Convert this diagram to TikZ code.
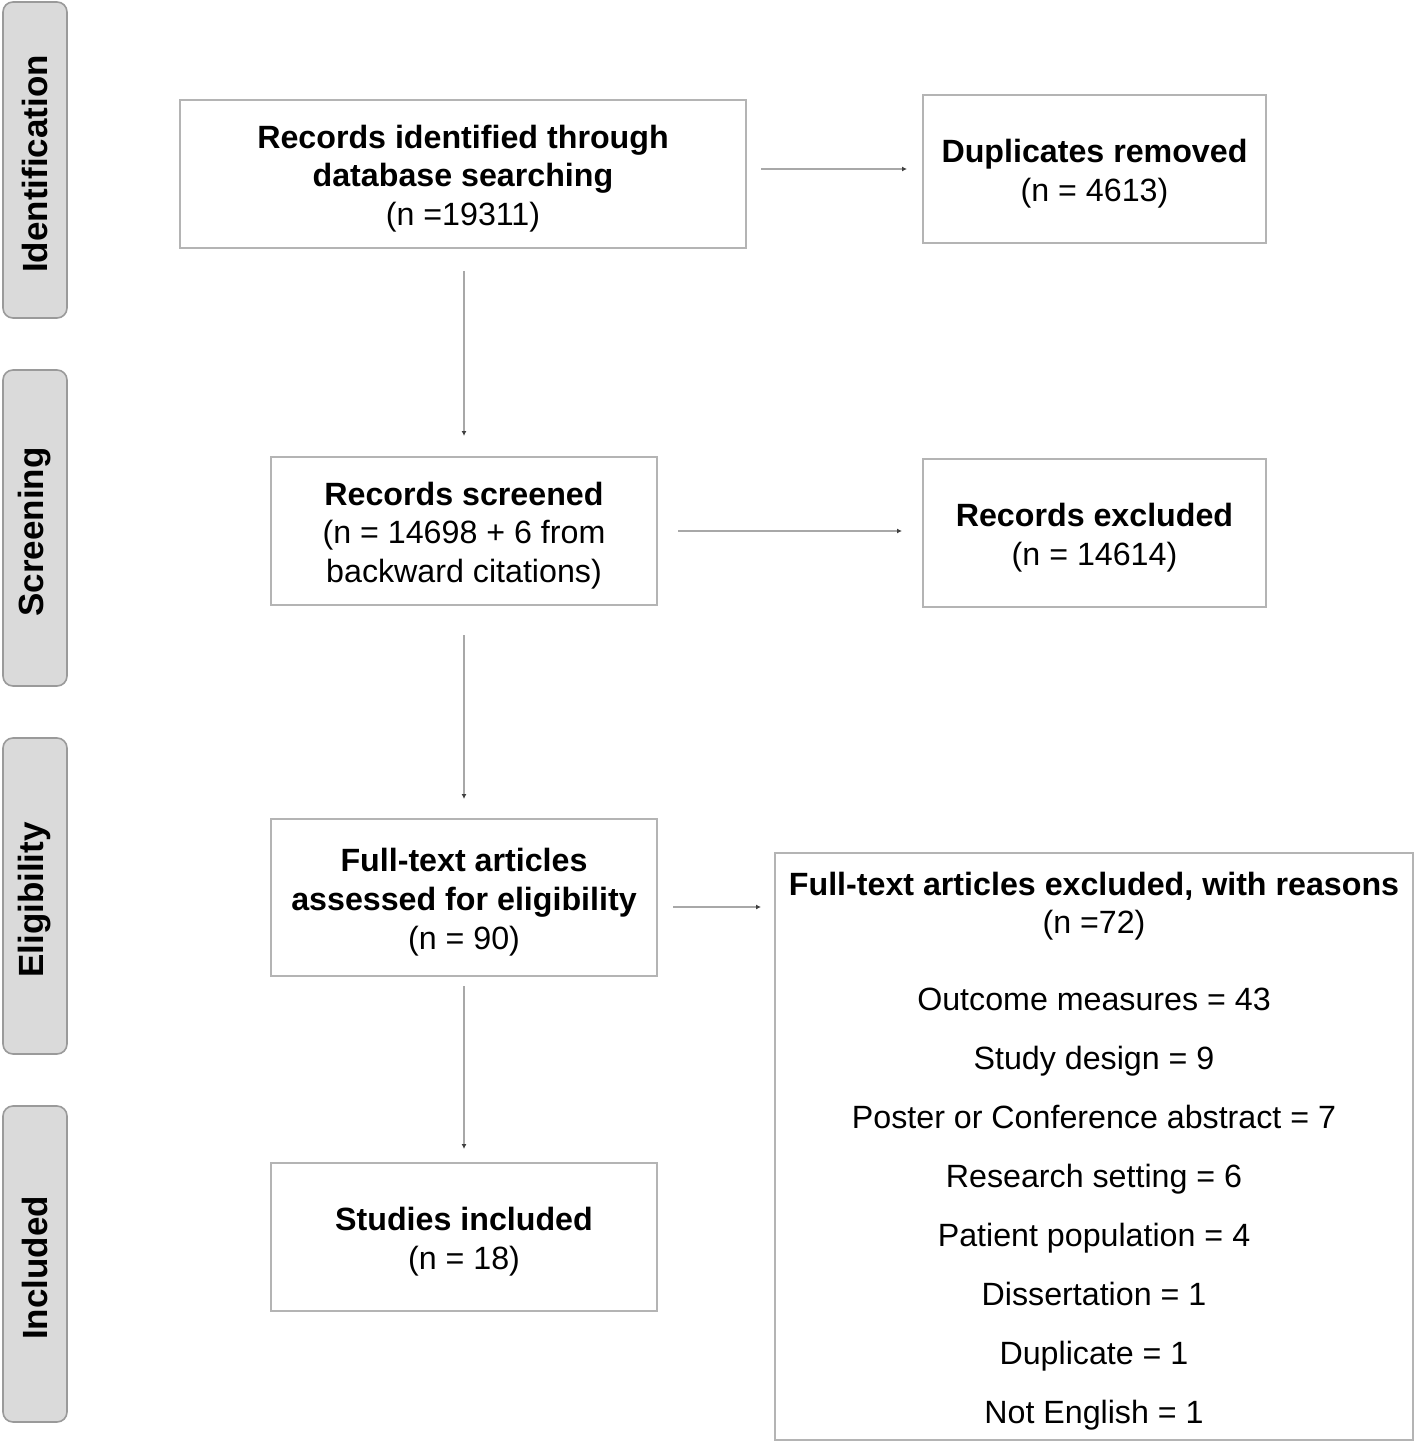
\documentclass[tikz,border=0pt]{standalone}
\usepackage{fontspec}
\setmainfont{Liberation Sans}
\usetikzlibrary{arrows.meta}
\definecolor{boxgrey}{HTML}{B4B4B4}
\definecolor{stagefill}{HTML}{DADADA}
\definecolor{stageline}{HTML}{9A9A9A}
\definecolor{linegrey}{HTML}{A8A8A8}
\newcommand{\toppad}{\rule{0pt}{16.3pt}}
\begin{document}
\begin{tikzpicture}[x=0.5pt, y=-0.5pt]
\useasboundingbox (0,0) rectangle (1416,1443);
\tikzset{stage/.style={draw=stageline, fill=stagefill, line width=0.8pt, rounded corners=5pt, rotate=90, minimum width=158pt, minimum height=32pt, inner sep=0pt, font=\fontsize{17.5}{20}\selectfont\bfseries}}
\node[stage] (idf) at (35,160) {Identification\hspace*{4pt}};
\node[stage] (scr) at (35,528) {Screening\hspace*{4pt}};
\node[stage] (elg) at (35,896) {Eligibility\hspace*{4pt}};
\node[stage] (inc) at (35,1264) {Included\hspace*{4pt}};

\tikzset{box/.style={draw=boxgrey, line width=1pt, align=center, inner sep=0pt, font=\fontsize{16.1}{19.3}\selectfont}}
\node[box, minimum width=283pt, minimum height=74pt] (rid) at (463,174) {\toppad\textbf{Records identified through}\\\textbf{database searching}\\(n =19311)};
\node[box, minimum width=171.5pt, minimum height=74pt] (dup) at (1094.5,169) {\toppad\textbf{Duplicates removed}\\(n = 4613)};
\node[box, minimum width=193pt, minimum height=74pt] (rsc) at (464,531) {\toppad\textbf{Records screened}\\(n = 14698 + 6 from\\backward citations)};
\node[box, minimum width=171.5pt, minimum height=74pt] (rex) at (1094.5,533) {\toppad\textbf{Records excluded}\\(n = 14614)};
\node[box, minimum width=193pt, minimum height=78.5pt] (fta) at (464,897.5) {\toppad\textbf{Full-text articles}\\\textbf{assessed for eligibility}\\(n = 90)};
\node[box, minimum width=319pt, minimum height=293.5pt] (ftx) at (1094,1146.5) {\toppad\textbf{Full-text articles excluded, with reasons}\\(n =72)\\[19.3pt]
Outcome measures = 43\\[10.2pt]
Study design = 9\\[10.2pt]
Poster or Conference abstract = 7\\[10.2pt]
Research setting = 6\\[10.2pt]
Patient population = 4\\[10.2pt]
Dissertation = 1\\[10.2pt]
Duplicate = 1\\[10.2pt]
Not English = 1};
\node[box, minimum width=193pt, minimum height=74pt] (sti) at (464,1237) {\toppad\textbf{Studies included}\\(n = 18)};

\coordinate (ftaout) at ([yshift=-4.75pt]fta.east);
\tikzset{flow/.style={draw=linegrey, line width=0.75pt, -{Latex[length=2.5pt,width=2.5pt,color=black!75]}}}
\path (rid.east |- dup.west) edge [flow, shorten <=7pt, shorten >=7.5pt] (dup.west);
\path (rsc.east) edge [flow, shorten <=10pt, shorten >=10pt] (rex.west |- rsc.east);
\path (ftaout) edge [flow, shorten <=7.5pt, shorten >=6.5pt] (ftx.west |- ftaout);
\path (rid.south -| rsc.north) edge [flow, shorten <=11pt, shorten >=10pt] (rsc.north);
\path (rsc.south) edge [flow, shorten <=14.5pt, shorten >=9.5pt] (fta.north);
\path (fta.south) edge [flow, shorten <=4.5pt, shorten >=6.5pt] (sti.north);

\end{tikzpicture}
\end{document}
